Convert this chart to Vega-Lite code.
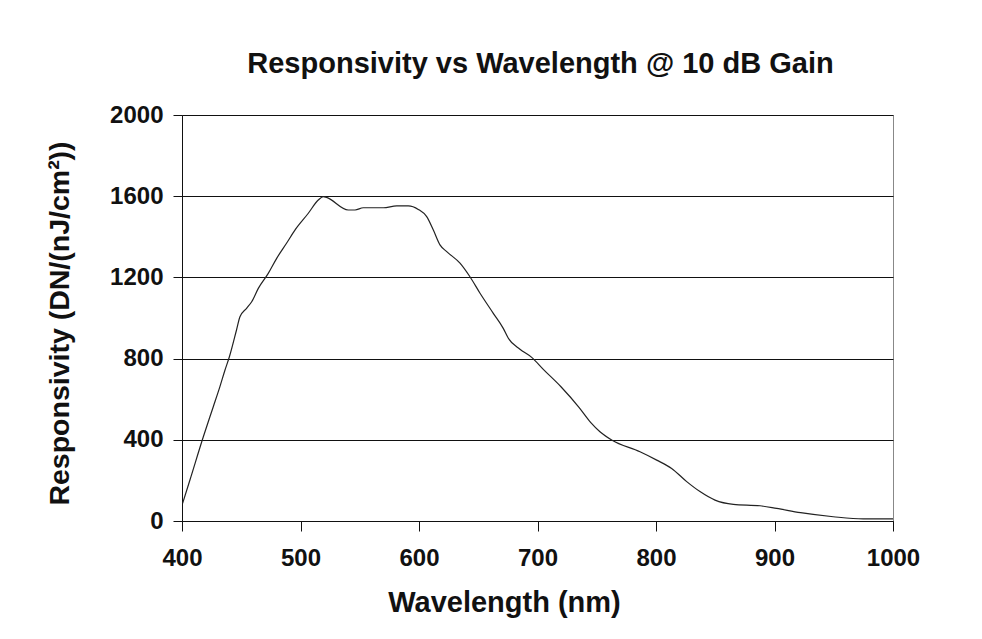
{
  "$schema": "https://vega.github.io/schema/vega-lite/v6.json",
  "width": 711,
  "height": 406,
  "autosize": {"type": "none"},
  "padding": {"left": 182, "top": 115, "right": 89, "bottom": 118},
  "background": "white",
  "title": {
    "text": "Responsivity vs Wavelength @ 10 dB Gain",
    "font": "Liberation Sans",
    "fontSize": 29,
    "fontWeight": "bold",
    "color": "#111111",
    "anchor": "middle",
    "dx": 3,
    "offset": 24
  },
  "config": {
    "view": {"stroke": "#888888", "strokeWidth": 1},
    "axis": {
      "labelFont": "Liberation Sans",
      "labelFontSize": 24,
      "labelFontWeight": "bold",
      "labelColor": "#111111",
      "titleFont": "Liberation Sans",
      "titleFontSize": 29,
      "titleFontWeight": "bold",
      "titleColor": "#111111",
      "domainColor": "#111111",
      "tickColor": "#111111",
      "gridColor": "#111111",
      "gridOpacity": 1,
      "gridWidth": 1
    }
  },
  "data": {
    "values": [
      {"wl": 400.5, "r": 87},
      {"wl": 406.7, "r": 202},
      {"wl": 418, "r": 415},
      {"wl": 426.4, "r": 563},
      {"wl": 432, "r": 662},
      {"wl": 436.3, "r": 744},
      {"wl": 440, "r": 809},
      {"wl": 446, "r": 941},
      {"wl": 448.9, "r": 1006},
      {"wl": 454.5, "r": 1048},
      {"wl": 458.8, "r": 1080},
      {"wl": 464.4, "r": 1146},
      {"wl": 472.8, "r": 1220},
      {"wl": 479.9, "r": 1294},
      {"wl": 488.2, "r": 1368},
      {"wl": 495.3, "r": 1433},
      {"wl": 506.6, "r": 1516},
      {"wl": 515, "r": 1581},
      {"wl": 519.3, "r": 1598},
      {"wl": 522, "r": 1594},
      {"wl": 540.3, "r": 1532},
      {"wl": 546, "r": 1532},
      {"wl": 553, "r": 1543},
      {"wl": 569.9, "r": 1543},
      {"wl": 581.2, "r": 1552},
      {"wl": 591, "r": 1552},
      {"wl": 599.4, "r": 1535},
      {"wl": 606.5, "r": 1499},
      {"wl": 612.1, "r": 1433},
      {"wl": 617.7, "r": 1360},
      {"wl": 623.4, "r": 1327},
      {"wl": 634.6, "r": 1270},
      {"wl": 643, "r": 1203},
      {"wl": 651.5, "r": 1122},
      {"wl": 662.7, "r": 1023},
      {"wl": 671.1, "r": 949},
      {"wl": 675.4, "r": 900},
      {"wl": 685.2, "r": 846},
      {"wl": 695.1, "r": 806},
      {"wl": 704.9, "r": 747},
      {"wl": 720, "r": 660},
      {"wl": 735, "r": 560},
      {"wl": 745, "r": 485},
      {"wl": 752.7, "r": 440},
      {"wl": 762.6, "r": 399},
      {"wl": 786.5, "r": 341},
      {"wl": 800.6, "r": 300},
      {"wl": 813.2, "r": 259},
      {"wl": 825.9, "r": 194},
      {"wl": 837.1, "r": 145},
      {"wl": 849.8, "r": 103},
      {"wl": 865.3, "r": 82},
      {"wl": 887.8, "r": 75},
      {"wl": 901.8, "r": 62},
      {"wl": 922, "r": 41},
      {"wl": 949.6, "r": 21},
      {"wl": 974.9, "r": 10},
      {"wl": 1000, "r": 10}
    ]
  },
  "mark": {"type": "line", "color": "#222222", "strokeWidth": 1.2, "interpolate": "monotone"},
  "encoding": {
    "x": {
      "field": "wl",
      "type": "quantitative",
      "scale": {"domain": [400, 1000], "nice": false, "zero": false},
      "axis": {
        "title": "Wavelength (nm)",
        "values": [400, 500, 600, 700, 800, 900, 1000],
        "format": "d",
        "grid": false,
        "tickSize": 10,
        "labelPadding": 15,
        "titleX": 322,
        "titleY": 90,
        "titleBaseline": "alphabetic",
        "labelFlush": false
      }
    },
    "y": {
      "field": "r",
      "type": "quantitative",
      "scale": {"domain": [0, 2000], "nice": false},
      "axis": {
        "title": "Responsivity (DN/(nJ/cm²))",
        "titleFontSize": 28.5,
        "values": [0, 400, 800, 1200, 1600, 2000],
        "format": "d",
        "grid": true,
        "tickSize": 9,
        "labelPadding": 10,
        "titleX": -123,
        "titleY": 208,
        "titleAngle": -90,
        "titleAlign": "center",
        "titleBaseline": "middle",
        "labelFlush": false
      }
    }
  }
}
